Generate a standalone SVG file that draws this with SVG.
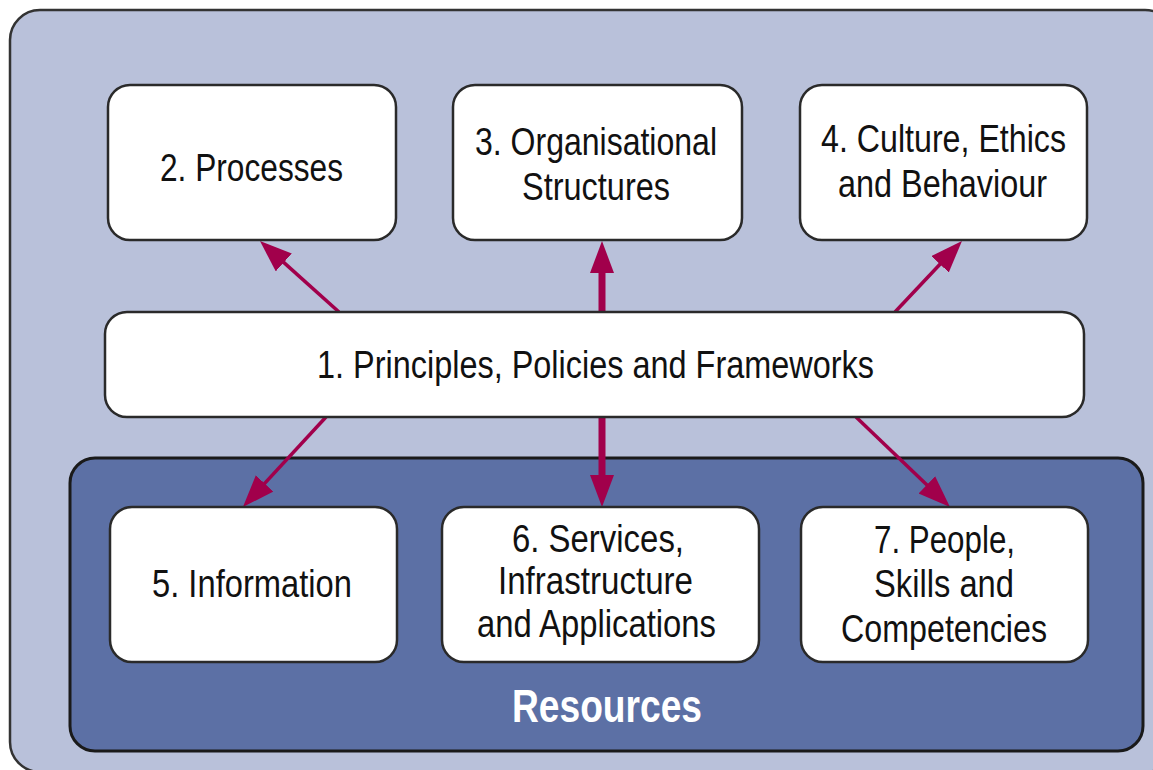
<svg xmlns="http://www.w3.org/2000/svg" width="1153" height="770" viewBox="0 0 1153 770">
<defs>
<style>
.node rect{fill:#ffffff;stroke:#2a2a2a;stroke-width:2.5}
.lbl{font-family:"Liberation Sans",Arial,sans-serif;font-size:38px;fill:#111111;text-anchor:middle}
.conn line{stroke:#A1004B;fill:none}
.thin{stroke-width:3.5}
.thick{stroke-width:7}
</style>
<marker id="ah" markerUnits="userSpaceOnUse" markerWidth="34" markerHeight="26" refX="2" refY="12" orient="auto">
<path d="M0,0 L32,12 L0,24 z" fill="#A1004B"/>
</marker>
</defs>
<rect width="1153" height="770" fill="#ffffff"/>
<g id="background">
<rect x="10" y="10" width="1165" height="762" rx="30" fill="#B9C1DA" stroke="#333333" stroke-width="2.5"/>
</g>
<g id="resources">
<rect x="70" y="458" width="1073" height="293" rx="25" fill="#5C70A5" stroke="#1a1a1a" stroke-width="3"/>
<text x="607" y="722" font-family="'Liberation Sans',Arial,sans-serif" font-size="46" font-weight="bold" fill="#ffffff" text-anchor="middle" textLength="190" lengthAdjust="spacingAndGlyphs">Resources</text>
</g>
<g id="connectors" class="conn">
<line class="thin" x1="339" y1="312" x2="282.3" y2="261.1" marker-end="url(#ah)"/>
<line class="thick" x1="602" y1="312" x2="602" y2="271" marker-end="url(#ah)"/>
<line class="thin" x1="895" y1="312" x2="941.4" y2="262.8" marker-end="url(#ah)"/>
<line class="thin" x1="326" y1="417" x2="263.3" y2="484.9" marker-end="url(#ah)"/>
<line class="thick" x1="602" y1="417" x2="602" y2="477" marker-end="url(#ah)"/>
<line class="thin" x1="856" y1="417" x2="928.3" y2="486.2" marker-end="url(#ah)"/>
</g>
<g id="node1" class="node">
<rect x="105" y="312" width="979" height="105" rx="22"/>
<text class="lbl" x="595.5" y="378" textLength="557" lengthAdjust="spacingAndGlyphs">1. Principles, Policies and Frameworks</text>
</g>
<g id="node2" class="node">
<rect x="108" y="85" width="288" height="155" rx="22"/>
<text class="lbl" x="251.5" y="181" textLength="183" lengthAdjust="spacingAndGlyphs">2. Processes</text>
</g>
<g id="node3" class="node">
<rect x="453" y="85" width="289" height="155" rx="22"/>
<text class="lbl" x="596" y="155" textLength="242" lengthAdjust="spacingAndGlyphs">3. Organisational</text>
<text class="lbl" x="596" y="200" textLength="148" lengthAdjust="spacingAndGlyphs">Structures</text>
</g>
<g id="node4" class="node">
<rect x="800" y="85" width="287" height="155" rx="22"/>
<text class="lbl" x="943.5" y="152" textLength="245" lengthAdjust="spacingAndGlyphs">4. Culture, Ethics</text>
<text class="lbl" x="942.5" y="197" textLength="209" lengthAdjust="spacingAndGlyphs">and Behaviour</text>
</g>
<g id="node5" class="node">
<rect x="110" y="507" width="287" height="155" rx="22"/>
<text class="lbl" x="252" y="597" textLength="200" lengthAdjust="spacingAndGlyphs">5. Information</text>
</g>
<g id="node6" class="node">
<rect x="442" y="507" width="317" height="155" rx="22"/>
<text class="lbl" x="598" y="552" textLength="172" lengthAdjust="spacingAndGlyphs">6. Services,</text>
<text class="lbl" x="595.5" y="594" textLength="195" lengthAdjust="spacingAndGlyphs">Infrastructure</text>
<text class="lbl" x="596.5" y="637" textLength="239" lengthAdjust="spacingAndGlyphs">and Applications</text>
</g>
<g id="node7" class="node">
<rect x="801" y="507" width="287" height="155" rx="22"/>
<text class="lbl" x="944.5" y="553" textLength="141" lengthAdjust="spacingAndGlyphs">7. People,</text>
<text class="lbl" x="944" y="597" textLength="140" lengthAdjust="spacingAndGlyphs">Skills and</text>
<text class="lbl" x="944" y="642" textLength="206" lengthAdjust="spacingAndGlyphs">Competencies</text>
</g>
</svg>
